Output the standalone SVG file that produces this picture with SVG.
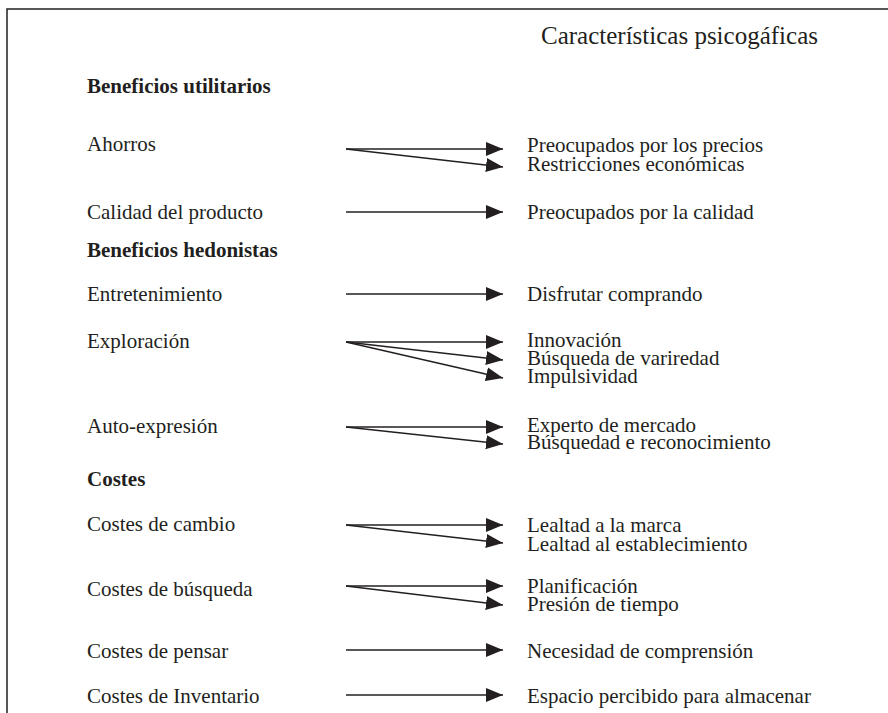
<svg xmlns="http://www.w3.org/2000/svg" width="888" height="713" viewBox="0 0 888 713">
<style>
text{font-family:"Liberation Serif","Times New Roman",serif;fill:#231f20;font-size:21px}
.h{font-weight:bold}
.t{font-size:25px}
.c line{stroke:#231f20;stroke-width:1.5}
.f{stroke:#231f20;stroke-width:1.5;fill:none}
</style>
<defs>
<marker id="ah" markerUnits="userSpaceOnUse" markerWidth="18" markerHeight="15" refX="17" refY="7" orient="auto" viewBox="0 0 18 15">
<path d="M0,0 L17,7 L0,14 z" fill="#231f20"/>
</marker>
</defs>
<rect width="888" height="713" fill="#fff"/>
<path class="f" d="M7,713 V9 H888"/>
<g id="title"><text class="t" x="541" y="44">Características psicogáficas</text></g>
<g id="sec1"><text class="h" x="87" y="93">Beneficios utilitarios</text></g>
<g id="ahorros"><text x="87" y="151">Ahorros</text></g>
<g id="calidad"><text x="87" y="219">Calidad del producto</text></g>
<g id="sec2"><text class="h" x="87" y="257">Beneficios hedonistas</text></g>
<g id="entret"><text x="87" y="301">Entretenimiento</text></g>
<g id="explor"><text x="87" y="348">Exploración</text></g>
<g id="autoexp"><text x="87" y="433">Auto-expresión</text></g>
<g id="sec3"><text class="h" x="87" y="486">Costes</text></g>
<g id="cambio"><text x="87" y="531">Costes de cambio</text></g>
<g id="busq"><text x="87" y="596">Costes de búsqueda</text></g>
<g id="pensar"><text x="87" y="658">Costes de pensar</text></g>
<g id="invent"><text x="87" y="703">Costes de Inventario</text></g>
<g id="r-precios"><text x="527" y="152">Preocupados por los precios</text></g>
<g id="r-restr"><text x="527" y="171">Restricciones económicas</text></g>
<g id="r-calidad"><text x="527" y="219">Preocupados por la calidad</text></g>
<g id="r-disfrutar"><text x="527" y="301">Disfrutar comprando</text></g>
<g id="r-innov"><text x="527" y="347">Innovación</text></g>
<g id="r-variedad"><text x="527" y="365">Búsqueda de variredad</text></g>
<g id="r-impuls"><text x="527" y="383">Impulsividad</text></g>
<g id="r-experto"><text x="527" y="432">Experto de mercado</text></g>
<g id="r-reconoc"><text x="527" y="449">Búsquedad e reconocimiento</text></g>
<g id="r-marca"><text x="527" y="532">Lealtad a la marca</text></g>
<g id="r-establ"><text x="527" y="551">Lealtad al establecimiento</text></g>
<g id="r-planif"><text x="527" y="593">Planificación</text></g>
<g id="r-presion"><text x="527" y="611">Presión de tiempo</text></g>
<g id="r-necesidad"><text x="527" y="658">Necesidad de comprensión</text></g>
<g id="r-espacio"><text x="527" y="703">Espacio percibido para almacenar</text></g>
<g id="connectors" class="c">
<line x1="346" y1="149" x2="503" y2="149" marker-end="url(#ah)"/>
<line x1="346" y1="149" x2="503" y2="167" marker-end="url(#ah)"/>
<line x1="346" y1="212" x2="503" y2="212" marker-end="url(#ah)"/>
<line x1="346" y1="294" x2="503" y2="294" marker-end="url(#ah)"/>
<line x1="346" y1="342" x2="503" y2="342" marker-end="url(#ah)"/>
<line x1="346" y1="342" x2="503" y2="360" marker-end="url(#ah)"/>
<line x1="346" y1="342" x2="503" y2="378" marker-end="url(#ah)"/>
<line x1="346" y1="427" x2="503" y2="427" marker-end="url(#ah)"/>
<line x1="346" y1="427" x2="503" y2="444" marker-end="url(#ah)"/>
<line x1="346" y1="525" x2="503" y2="525" marker-end="url(#ah)"/>
<line x1="346" y1="525" x2="503" y2="543" marker-end="url(#ah)"/>
<line x1="346" y1="586" x2="503" y2="586" marker-end="url(#ah)"/>
<line x1="346" y1="586" x2="503" y2="605" marker-end="url(#ah)"/>
<line x1="346" y1="650" x2="503" y2="650" marker-end="url(#ah)"/>
<line x1="346" y1="695" x2="503" y2="695" marker-end="url(#ah)"/>
</g>
</svg>
